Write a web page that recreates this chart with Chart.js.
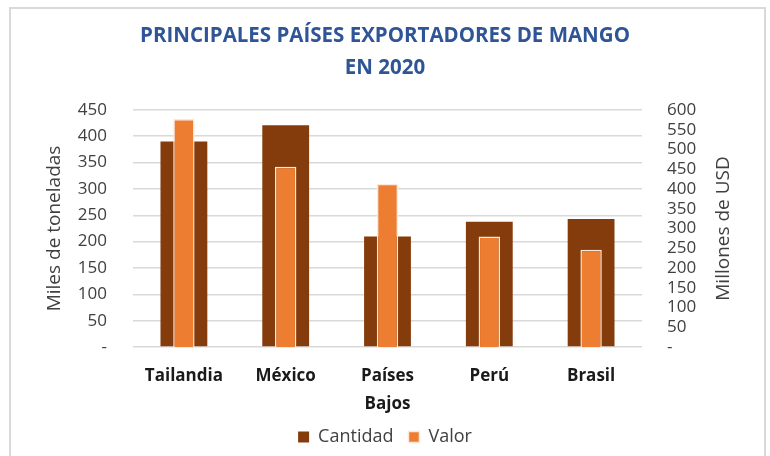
<!DOCTYPE html>
<html><head><meta charset="utf-8">
<script src="https://cdn.jsdelivr.net/npm/chart.js@4"></script>
<style>
html,body{margin:0;padding:0;background:#fff;}
#wrap{position:relative;width:770px;height:456px;overflow:hidden;background:#fff;}
#frame{position:absolute;left:9px;top:7px;width:757px;height:480px;border:2px solid #d9d9d9;box-sizing:border-box;}
canvas{position:absolute;left:0;top:0;}
</style></head><body>
<div id="wrap"><div id="frame"></div><canvas id="c" width="770" height="456"></canvas></div>
<script>
const categories = [['Tailandia'], ['México'], ['Países', 'Bajos'], ['Perú'], ['Brasil']];
const cantidad = [390, 421, 210, 238, 243];   // Miles de toneladas
const valor = [577, 456, 413, 280, 246];      // Millones de USD
const seriesNames = ['Cantidad', 'Valor'];
const titleLines = ['PRINCIPALES PAÍSES EXPORTADORES DE MANGO', 'EN 2020'];
const leftTitle = 'Miles de toneladas';
const rightTitle = 'Millones de USD';

const FONT = "'Open Sans', sans-serif";
const fmt = v => v === 0 ? '-' : String(v);

// Right-axis title drawn reading bottom-to-top, as in the original
const rightTitlePlugin = {
  id: 'rightTitle',
  afterDraw(chart) {
    const s = chart.scales.y1;
    const ctx = chart.ctx;
    ctx.save();
    ctx.translate(s.right - 46, (chart.chartArea.top + chart.chartArea.bottom) / 2);
    ctx.rotate(-Math.PI / 2);
    ctx.font = "19px " + FONT;
    ctx.fillStyle = '#404040';
    ctx.textAlign = 'center';
    ctx.textBaseline = 'middle';
    ctx.fillText(rightTitle, 0, 0);
    ctx.restore();
  }
};

new Chart(document.getElementById('c'), {
  type: 'bar',
  data: {
    labels: categories,
    datasets: [
      { label: seriesNames[0], data: cantidad, yAxisID: 'y', backgroundColor: '#843C0C',
        borderWidth: 0, grouped: false, barPercentage: 0.46, categoryPercentage: 1, order: 2 },
      { label: seriesNames[1], data: valor, yAxisID: 'y1', backgroundColor: '#ED7D31',
        borderColor: '#FCE8DA', borderWidth: 1.5, grouped: false, barPercentage: 0.21, categoryPercentage: 1, order: 1 }
    ]
  },
  options: {
    responsive: false, animation: false, devicePixelRatio: 1,
    layout: { padding: 0 },
    plugins: {
      tooltip: { enabled: false },
      title: { display: true, text: titleLines, color: '#2F5597',
        font: { family: FONT, size: 20.5, weight: 'bold', lineHeight: 1.56 },
        padding: { top: 20, bottom: 26 } },
      legend: { position: 'bottom',
        labels: { boxWidth: 11, boxHeight: 11, padding: 15, color: '#404040',
          font: { family: FONT, size: 18 },
          sort: (a, b) => a.datasetIndex - b.datasetIndex } }
    },
    scales: {
      x: {
        grid: { display: false, drawTicks: false }, border: { display: false },
        ticks: { color: '#1a1a1a', padding: 16, maxRotation: 0, autoSkip: false,
          font: { family: FONT, size: 17, weight: 'bold', lineHeight: 1.6 } },
        afterFit: s => { s.height = 66; }
      },
      y: {
        position: 'left', min: 0, max: 450,
        grid: { color: '#d9d9d9', lineWidth: 1.6, drawTicks: false }, border: { display: false },
        ticks: { stepSize: 50, callback: fmt, color: '#404040', padding: 26,
          font: { family: FONT, size: 17 } },
        title: { display: true, text: leftTitle, color: '#404040',
          font: { family: FONT, size: 19 }, padding: { top: 43, bottom: 0 } },
        afterFit: s => { s.width = 133; }
      },
      y1: {
        position: 'right', min: 0, max: 600,
        grid: { display: false, drawTicks: false }, border: { display: false },
        ticks: { stepSize: 50, callback: fmt, color: '#404040', padding: 25, autoSkip: false,
          font: { family: FONT, size: 17, lineHeight: 1 } },
        afterFit: s => { s.width = 128; }
      }
    }
  },
  plugins: [rightTitlePlugin]
});
</script>
</body></html>
